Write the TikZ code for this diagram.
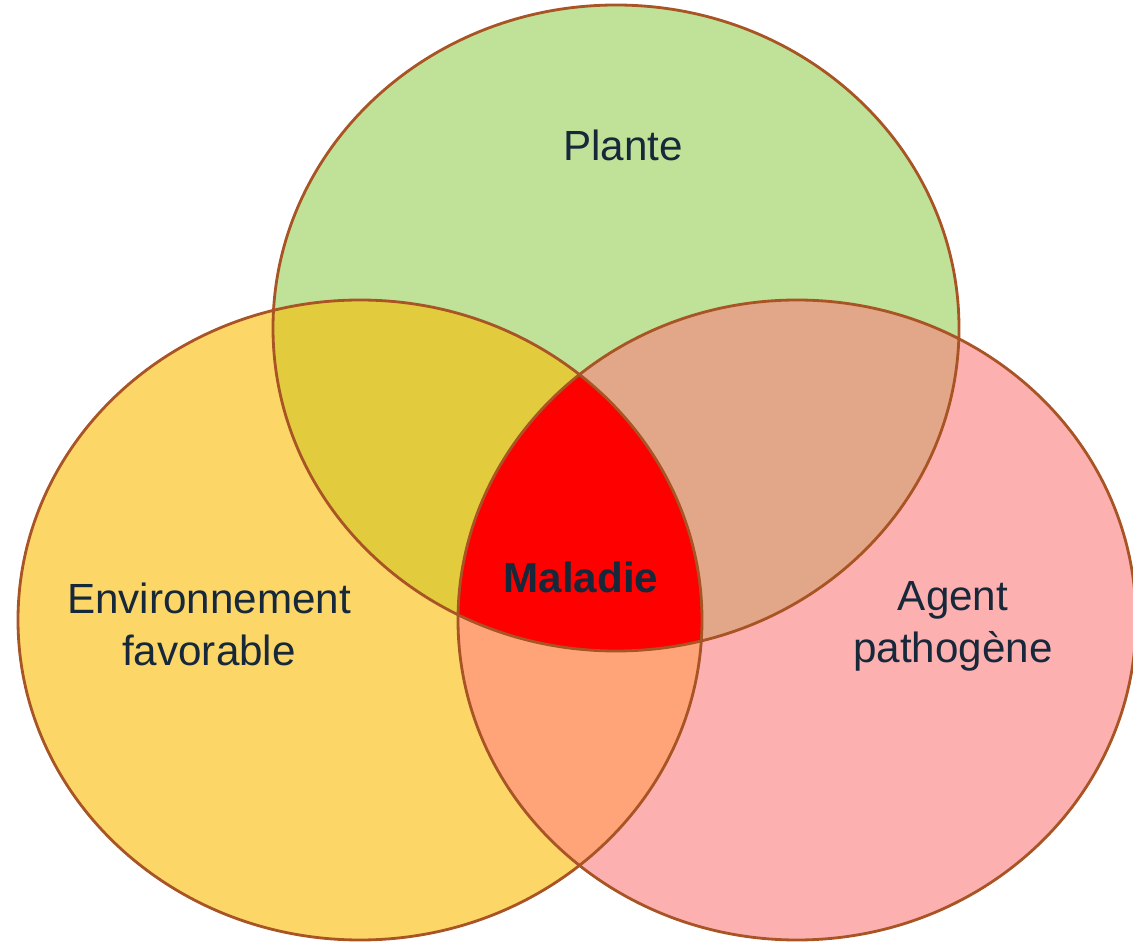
\documentclass[tikz,border=0pt]{standalone}
\usepackage{fontspec}
\setmainfont{Liberation Sans}
\definecolor{vert}{RGB}{192,226,152}
\definecolor{jaune}{RGB}{252,215,104}
\definecolor{rose}{RGB}{253,176,176}
\definecolor{vertjaune}{RGB}{226,204,62}
\definecolor{vertrose}{RGB}{226,166,136}
\definecolor{jaunerose}{RGB}{255,164,120}
\definecolor{bord}{RGB}{168,84,36}
\definecolor{encre}{RGB}{23,40,58}
\newcommand{\ePlante}{(616,615) ellipse [x radius=343,y radius=323]}
\newcommand{\eEnv}{(360,323) ellipse [x radius=342,y radius=320]}
\newcommand{\eAgent}{(797,323) ellipse [x radius=339,y radius=320]}
\tikzset{every node/.style={font=\fontsize{30}{37}\selectfont,text=encre,align=center},contour/.style={draw=bord,line width=2pt}}

\begin{document}
\begin{tikzpicture}[x=0.025cm,y=0.025cm]
\useasboundingbox (0,0) rectangle (1133,943);
\fill[vert] \ePlante;\fill[jaune] \eEnv;\fill[rose] \eAgent;
\begin{scope}\clip \ePlante;\fill[vertjaune] \eEnv;\fill[vertrose] \eAgent;\end{scope}
\begin{scope}\clip \eEnv;\fill[jaunerose] \eAgent;\end{scope}
\begin{scope}\clip \ePlante;\clip \eEnv;\fill[red] \eAgent;\end{scope}
\draw[contour] \ePlante;\draw[contour] \eEnv;\draw[contour] \eAgent;
\node (plante) at (623,798){Plante};
\node (env) at (209,319){Environnement\\favorable};
\node (agent) at (953,317){Agent\\pathogène};
\node[font=\fontsize{30}{37}\selectfont\bfseries] (maladie) at (581,366){Maladie};
\end{tikzpicture}
\end{document}
